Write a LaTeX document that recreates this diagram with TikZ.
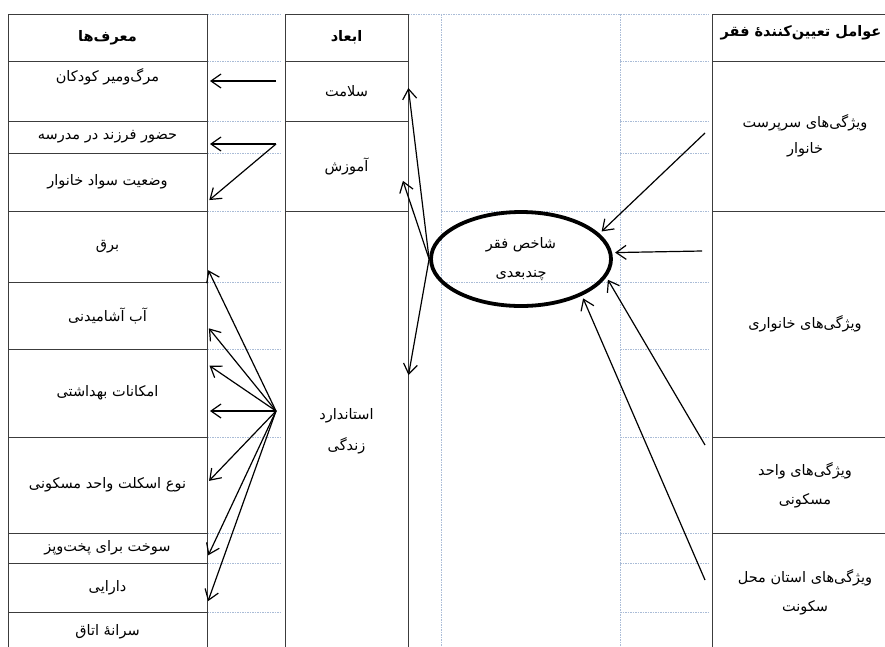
\documentclass[tikz,border=0pt]{standalone}
\usepackage{fontspec}
\usepackage{tikz}
\usetikzlibrary{arrows.meta, shapes.geometric}
\newfontfamily\arabicfont[Script=Arabic]{DejaVu Sans}
\TeXXeTstate=1
\newcommand{\fa}[1]{{\arabicfont\beginR #1\endR}}
\definecolor{gridblue}{RGB}{170,188,215}
\definecolor{cellline}{RGB}{60,60,60}

\begin{document}
\begin{tikzpicture}[x=1pt,y=-1pt,->,>={Straight Barb[length=10pt,width=14pt]},shorten >=3pt,
                    line width=1.2pt,font=\fontsize{14.5}{26}\selectfont]
  \tikzstyle{cell}=[rectangle,draw=cellline,line width=0.8pt,inner sep=0pt,outer sep=0pt,align=center]
  \tikzstyle{grid}=[-,draw=gridblue,line width=0.6pt,dash pattern=on 1.5pt off 1pt]
  \useasboundingbox (0,0) rectangle (885,646);
  % dashed guide lines
  \foreach \y in {61,121,153,211,282,349,437,533,563,612} {
    \draw[grid] (207,\y) -- (285,\y);
    \draw[grid] (620,\y) -- (712,\y);
  }
  \draw[grid] (207,14) -- (285,14);
  \draw[grid] (408,14) -- (712,14);
  \draw[grid] (441,211) -- (620,211);
  \draw[grid] (441,282) -- (620,282);
  \draw[grid] (441,14) -- (441,652);
  \draw[grid] (620,14) -- (620,652);
  % left column
  \node[cell, minimum width=199pt, minimum height=47pt] (L0) at (107.5,37.5) {\bfseries\fa{معرف‌ها}};
  \node[cell, minimum width=199pt, minimum height=60pt] (L1) at (107.5,91) {};
  \node (L1t) at (107.5,77) {\fa{مرگ‌ومیر کودکان}};
  \node[cell, minimum width=199pt, minimum height=32pt] (L2) at (107.5,137) {\fa{حضور فرزند در مدرسه}};
  \node[cell, minimum width=199pt, minimum height=58pt] (L3) at (107.5,182) {\fa{وضعیت سواد خانوار}};
  \node[cell, minimum width=199pt, minimum height=71pt] (L4) at (107.5,246.5) {\fa{برق}};
  \node[cell, minimum width=199pt, minimum height=67pt] (L5) at (107.5,315.5) {\fa{آب آشامیدنی}};
  \node[cell, minimum width=199pt, minimum height=88pt] (L6) at (107.5,393) {\fa{امکانات بهداشتی}};
  \node[cell, minimum width=199pt, minimum height=96pt] (L7) at (107.5,485) {\fa{نوع اسکلت واحد مسکونی}};
  \node[cell, minimum width=199pt, minimum height=30pt] (L8) at (107.5,548) {\fa{سوخت برای پخت‌وپز}};
  \node[cell, minimum width=199pt, minimum height=49pt] (L9) at (107.5,587.5) {\fa{دارایی}};
  \node[cell, minimum width=199pt, minimum height=40pt] (L10) at (107.5,632) {\fa{سرانهٔ اتاق}};
  % middle column
  \node[cell, minimum width=123pt, minimum height=47pt] (M0) at (346.5,37.5) {\bfseries\fa{ابعاد}};
  \node[cell, minimum width=123pt, minimum height=60pt] (M1) at (346.5,91) {\fa{سلامت}};
  \node[cell, minimum width=123pt, minimum height=90pt] (M2) at (346.5,166) {\fa{آموزش}};
  \node[cell, minimum width=123pt, minimum height=441pt] (M3) at (346.5,431.5) {\fa{استاندارد}\\[5pt]\fa{زندگی}};
  % right column
  \node[cell, minimum width=186pt, minimum height=47pt] (R0) at (805,37.5) {};
  \node (R0t) at (801,33) {\bfseries\fa{عوامل تعیین‌کنندهٔ فقر}};
  \node[cell, minimum width=186pt, minimum height=150pt] (R1) at (805,136) {\fa{ویژگی‌های سرپرست}\\\fa{خانوار}};
  \node[cell, minimum width=186pt, minimum height=226pt] (R2) at (805,324) {\fa{ویژگی‌های خانواری}};
  \node[cell, minimum width=186pt, minimum height=96pt] (R3) at (805,485) {\fa{ویژگی‌های واحد}\\[3pt]\fa{مسکونی}};
  \node[cell, minimum width=186pt, minimum height=119pt] (R4) at (805,592.5) {\fa{ویژگی‌های استان محل}\\[3pt]\fa{سکونت}};
  % centre
  \node[ellipse, draw, line width=3.8pt, minimum width=180pt, minimum height=94pt, inner sep=0pt, align=center] (pov) at (521,259) {\fa{شاخص فقر}\\[3pt]\fa{چندبعدی}};
  \coordinate (hubA) at (276,81);
  \coordinate (hubB) at (276,144);
  \coordinate (hubC) at (276,411);
  % arrows
  \path (hubA) edge (L1.east |- hubA);
  \path (hubB) edge ([yshift=-7pt]L2.east);
  \path (hubB) edge ([yshift=-20pt]L3.east);
  \path (hubC) edge ([yshift=-21pt]L4.east);
  \path (hubC) edge ([yshift=-10.5pt]L5.east);
  \path (hubC) edge ([yshift=29pt]L6.east);
  \path (hubC) edge (L6.east |- hubC);
  \path (hubC) edge ([yshift=2pt]L7.east);
  \path (hubC) edge ([yshift=-10pt]L8.east);
  \path (hubC) edge ([yshift=-16.5pt]L9.east);
  \path (pov.west) edge ([yshift=6pt]M1.east);
  \path (pov.west) edge ([xshift=-6pt,yshift=-12pt]M2.east);
  \path (pov.west) edge ([yshift=53.5pt]M3.east);
  \path ([xshift=-7pt,yshift=3pt]R1.west) edge (pov.18);
  \path ([xshift=-10pt,yshift=73pt]R2.west) edge (pov.4);
  \path ([xshift=-7pt,yshift=40pt]R3.west) edge (pov.-12);
  \path ([xshift=-7pt,yshift=12.5pt]R4.west) edge (pov.-31);
\end{tikzpicture}
\end{document}
